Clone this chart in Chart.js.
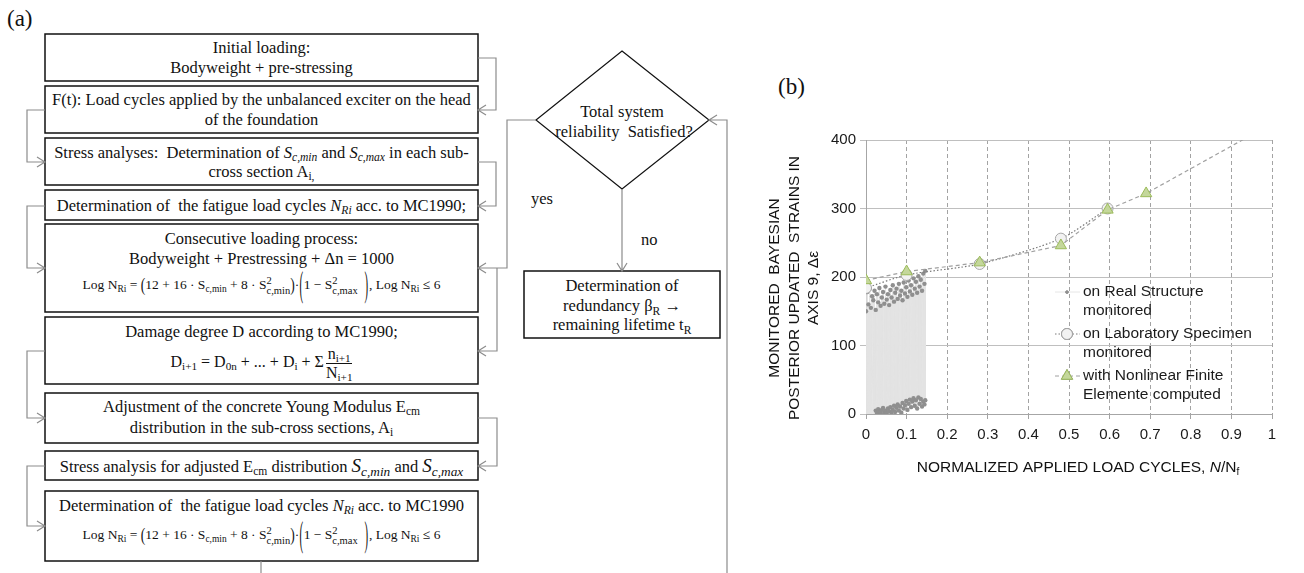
<!DOCTYPE html>
<html>
<head>
<meta charset="utf-8">
<script src="https://cdn.jsdelivr.net/npm/chart.js@4.4.1/dist/chart.umd.min.js"></script>
<style>
  html, body { margin: 0; padding: 0; background: #fff; }
  #page { position: relative; width: 1304px; height: 573px; overflow: hidden; font-family: "Liberation Serif", "Times New Roman", serif; color: #111; }
  #flow { position: absolute; left: 0; top: 0; }
  .tag { position: absolute; font-size: 23px; }
  .ln { position: absolute; left: 45px; width: 433px; height: 20px; line-height: 20px; text-align: center; font-size: 16.5px; white-space: nowrap; }
  .ln sub { font-size: 70%; vertical-align: -0.3em; line-height: 0; }
  .f { font-size: 13.5px; }
  .ss { display: inline-flex; flex-direction: column; vertical-align: middle; font-size: 78%; line-height: 0.95; text-align: left; }
  .p1 { display: inline-block; transform: scaleY(1.4); }
  .p2 { display: inline-block; transform: scaleY(2.7) scaleX(0.8); }
  .frac { display: inline-flex; flex-direction: column; vertical-align: middle; line-height: 1.1; text-align: center; margin-left: 2px; }
  .frac > span:first-child { border-bottom: 1px solid #111; }
  .free { position: absolute; font-size: 16.5px; white-space: nowrap; line-height: 20px; }
  #chartB { position: absolute; left: 760px; top: 100px; }
</style>
</head>
<body>
<div id="page">
  <svg id="flow" width="760" height="573" xmlns="http://www.w3.org/2000/svg">
    <g fill="none" stroke="#111" stroke-width="1.5">
      <rect x="45" y="34" width="433" height="47"/>
      <rect x="45" y="86" width="433" height="47"/>
      <rect x="45" y="138" width="433" height="47"/>
      <rect x="45" y="190" width="433" height="30"/>
      <rect x="45" y="224" width="433" height="88"/>
      <rect x="45" y="317" width="433" height="67"/>
      <rect x="45" y="393" width="433" height="50"/>
      <rect x="45" y="451" width="433" height="29"/>
      <rect x="45" y="491" width="433" height="70"/>
      <rect x="524" y="271" width="196" height="67"/>
      <path d="M622,51 L709,120 L622,189 L536,120 Z" stroke-width="1.2"/>
    </g>
    <g fill="none" stroke="#8c8c8c" stroke-width="1.2">
      <path d="M478,58 H496 V110 H478 M486,105 L478,110 L486,115"/>
      <path d="M45,110 H27 V162 H45 M37,157 L45,162 L37,167"/>
      <path d="M478,162 H496 V206 H478 M486,201 L478,206 L486,211"/>
      <path d="M45,206 H27 V268 H45 M37,263 L45,268 L37,273"/>
      <path d="M536,120 H507 V268 H478 M486,263 L478,268 L486,273"/>
      <path d="M497,268 V351 H478 M486,346 L478,351 L486,356"/>
      <path d="M45,351 H27 V418 H45 M37,413 L45,418 L37,423"/>
      <path d="M478,418 H497 V466 H478 M486,461 L478,466 L486,471"/>
      <path d="M45,466 H27 V526 H45 M37,521 L45,526 L37,531"/>
      <path d="M261,561 V573"/>
      <path d="M727,573 V120 H709 M717,115 L709,120 L717,125"/>
      <path d="M622,189 V271 M617,263 L622,271 L627,263"/>
    </g>
  </svg>

  <div class="tag" style="left:7px; top:6px;">(a)</div>
  <div class="tag" style="left:778px; top:74px;">(b)</div>

  <div class="ln" style="top:38px;">Initial loading:</div>
  <div class="ln" style="top:58px;">Bodyweight + pre-stressing</div>

  <div class="ln" style="top:90px;">F(t): Load cycles applied by the unbalanced exciter on the head</div>
  <div class="ln" style="top:110px;">of the foundation</div>

  <div class="ln" style="top:143px;">Stress analyses:&nbsp; Determination of <i>S<sub>c,min</sub></i> and <i>S<sub>c,max</sub></i> in each sub-</div>
  <div class="ln" style="top:162px;">cross section A<sub>i,</sub></div>

  <div class="ln" style="top:196px;">Determination of&nbsp; the fatigue load cycles <i>N<sub>Ri</sub></i> acc. to MC1990;</div>

  <div class="ln" style="top:229px;">Consecutive loading process:</div>
  <div class="ln" style="top:249px;">Bodyweight + Prestressing + Δn = 1000</div>
  <div class="ln f" style="top:275px;">Log N<sub>Ri</sub> = <span class="p1">(</span>12 + 16 · S<sub>c,min</sub> + 8 · S<span class="ss"><span>2</span><span>c,min</span></span><span class="p1">)</span>·<span class="p2">(</span>1 − S<span class="ss"><span>2</span><span>c,max</span></span>&nbsp;&nbsp;<span class="p2">)</span>, Log N<sub>Ri</sub> ≤ 6</div>

  <div class="ln" style="top:322px;">Damage degree D according to MC1990;</div>
  <div class="ln" style="top:345px; font-size:16px;">D<sub>i+1</sub> = D<sub>0n</sub> + ... + D<sub>i</sub> + Σ<span class="frac"><span>n<sub>i+1</sub></span><span>N<sub>i+1</sub></span></span></div>

  <div class="ln" style="top:397px;">Adjustment of the concrete Young Modulus E<sub>cm</sub></div>
  <div class="ln" style="top:418px;">distribution in the sub-cross sections, A<sub>i</sub></div>

  <div class="ln" style="top:456px;">Stress analysis for adjusted E<sub>cm</sub> distribution <i style="font-size:19px">S<sub>c,min</sub></i> and <i style="font-size:19px">S<sub>c,max</sub></i></div>

  <div class="ln" style="top:496px;">Determination of&nbsp; the fatigue load cycles <i>N<sub>Ri</sub></i> acc. to MC1990</div>
  <div class="ln f" style="top:525px;">Log N<sub>Ri</sub> = <span class="p1">(</span>12 + 16 · S<sub>c,min</sub> + 8 · S<span class="ss"><span>2</span><span>c,min</span></span><span class="p1">)</span>·<span class="p2">(</span>1 − S<span class="ss"><span>2</span><span>c,max</span></span>&nbsp;&nbsp;<span class="p2">)</span>, Log N<sub>Ri</sub> ≤ 6</div>

  <div class="free" style="left:572px; top:102px; width:100px; text-align:center;">Total system</div>
  <div class="free" style="left:552px; top:122px; width:144px; text-align:center;">reliability&nbsp; Satisfied?</div>
  <div class="free" style="left:531px; top:189px;">yes</div>
  <div class="free" style="left:641px; top:230px;">no</div>
  <div class="free" style="left:524px; top:276px; width:196px; text-align:center;">Determination of</div>
  <div class="free" style="left:524px; top:296px; width:196px; text-align:center;">redundancy β<sub style="font-size:70%">R</sub> →</div>
  <div class="free" style="left:524px; top:315px; width:196px; text-align:center;">remaining lifetime t<sub style="font-size:70%">R</sub></div>

  <canvas id="chartB" width="544" height="400"></canvas>
</div>

<script>
// (b) monitored / computed strains vs normalized load cycles
const realX    = [0.000, 0.003, 0.006, 0.009, 0.012, 0.015, 0.018, 0.021, 0.024, 0.027,
                  0.030, 0.033, 0.036, 0.039, 0.042, 0.045, 0.048, 0.051, 0.054, 0.057,
                  0.060, 0.063, 0.066, 0.069, 0.072, 0.075, 0.078, 0.081, 0.084, 0.087,
                  0.090, 0.093, 0.096, 0.099, 0.102, 0.105, 0.108, 0.111, 0.114, 0.117,
                  0.120, 0.123, 0.126, 0.129, 0.132, 0.135, 0.138, 0.141, 0.144, 0.146];
const realHigh = [150, 178, 160, 183, 155, 172, 166, 180, 152, 175,
                  163, 184, 158, 170, 178, 161, 186, 167, 175, 159,
                  181, 170, 188, 164, 177, 183, 168, 190, 173, 180,
                  166, 192, 176, 185, 171, 195, 179, 188, 174, 198,
                  183, 193, 177, 201, 186, 196, 180, 205, 190, 209];
const realLow  = [0, 0, 0, 0, 0, 0, 0, 0, 5, 2,
                  7, 3, 1, 6, 9, 2, 5, 1, 8, 4,
                  10, 1, 6, 12, 3, 9, 14, 5, 11, 2,
                  16, 8, 13, 19, 6, 15, 21, 10, 18, 23,
                  12, 20, 8, 24, 15, 22, 11, 18, 14, 20];

const labX = [0, 0.1, 0.28, 0.48, 0.595];
const labY = [184, 203, 219, 256, 300];

const feX = [0, 0.1, 0.28, 0.48, 0.595, 0.69, 1.0];
const feY = [195, 208, 221, 246, 298, 322, 424];

const seriesNames = [
  ['on Real Structure', 'monitored'],
  ['on Laboratory Specimen', 'monitored'],
  ['with Nonlinear Finite', 'Elemente computed']
];
const yTitle = ['MONITORED  BAYESIAN', 'POSTERIOR UPDATED  STRAINS IN', 'AXIS 9, Δε'];

const realPoints = [];
realX.forEach((x, i) => {
  realPoints.push({ x: x, y: realHigh[i] });
  realPoints.push({ x: x, y: realLow[i] });
});
const labPoints = labX.map((x, i) => ({ x: x, y: labY[i] }));
const fePoints = feX.map((x, i) => ({ x: x, y: feY[i] }));

const sans = '"Liberation Sans", Arial, sans-serif';

// titles and legend drawn on the canvas (multi-line, subscripts)
const extrasPlugin = {
  id: 'extras',
  afterDraw(chart) {
    const ctx = chart.ctx;
    ctx.save();
    ctx.fillStyle = '#111';

    // y title, three rotated lines
    ctx.font = '15.5px ' + sans;
    ctx.textAlign = 'center';
    ctx.textBaseline = 'middle';
    const lineX = [15, 35, 54];
    yTitle.forEach((t, i) => {
      ctx.save();
      ctx.translate(lineX[i], 188);
      ctx.rotate(-Math.PI / 2);
      ctx.fillText(t, 0, 0);
      ctx.restore();
    });

    // x title with N/N_f
    const main = 'NORMALIZED APPLIED LOAD CYCLES, ';
    const big = '15.5px ' + sans;
    ctx.textAlign = 'left';
    ctx.font = big;
    const w1 = ctx.measureText(main).width;
    ctx.font = 'italic ' + big;
    const w2 = ctx.measureText('N').width;
    ctx.font = big;
    const w3 = ctx.measureText('/N').width;
    ctx.font = '10px ' + sans;
    const w4 = ctx.measureText('f').width;
    let x = 318 - (w1 + w2 + w3 + w4) / 2;
    const y = 368;
    ctx.font = big;
    ctx.fillText(main, x, y); x += w1;
    ctx.font = 'italic ' + big;
    ctx.fillText('N', x, y); x += w2;
    ctx.font = big;
    ctx.fillText('/N', x, y); x += w3;
    ctx.font = '10px ' + sans;
    ctx.fillText('f', x, y + 4);

    // legend
    const rows = [192, 234, 276];
    chart.data.datasets.forEach((ds, i) => {
      const ry = rows[i];
      ctx.save();
      ctx.strokeStyle = i === 0 ? '#e6e6e6' : ds.borderColor;
      ctx.lineWidth = 1;
      ctx.setLineDash(ds.borderDash || []);
      ctx.beginPath();
      ctx.moveTo(295, ry);
      ctx.lineTo(320, ry);
      ctx.stroke();
      ctx.setLineDash([]);
      const r = i === 0 ? 1.5 : ds.pointRadius;
      Chart.helpers.drawPoint(ctx, {
        pointStyle: ds.pointStyle || 'circle',
        radius: r,
        rotation: 0,
        borderWidth: ds.pointBorderWidth
      }, 307, ry);
      ctx.fillStyle = ds.pointBackgroundColor;
      ctx.strokeStyle = ds.pointBorderColor;
      ctx.lineWidth = ds.pointBorderWidth;
      ctx.fill();
      if (ds.pointBorderWidth) ctx.stroke();
      ctx.restore();
      ctx.fillStyle = '#1a1a1a';
      ctx.font = '15.5px ' + sans;
      ctx.textAlign = 'left';
      ctx.textBaseline = 'middle';
      seriesNames[i].forEach((t, k) => ctx.fillText(t, 323, ry + k * 19));
    });
    ctx.restore();
  }
};

new Chart(document.getElementById('chartB'), {
  type: 'line',
  data: {
    datasets: [
      {
        label: seriesNames[0].join(' '),
        data: realPoints,
        borderColor: '#e3e3e3',
        borderWidth: 1,
        pointRadius: (c) => (c.raw && c.raw.y === 0 ? 0 : 2.2),
        pointBackgroundColor: '#8f8f8f',
        pointBorderColor: '#8f8f8f',
        pointBorderWidth: 0,
        tension: 0,
        order: 3
      },
      {
        label: seriesNames[1].join(' '),
        data: labPoints,
        borderColor: '#7a7a7a',
        borderWidth: 1.2,
        borderDash: [1.5, 2],
        pointStyle: 'circle',
        pointRadius: 5.5,
        pointBackgroundColor: '#f2f2f2',
        pointBorderColor: '#a6a6a6',
        pointBorderWidth: 1,
        tension: 0.25,
        order: 2
      },
      {
        label: seriesNames[2].join(' '),
        data: fePoints,
        borderColor: '#a0a0a0',
        borderWidth: 1.2,
        borderDash: [4, 3],
        pointStyle: 'triangle',
        pointRadius: 6.5,
        pointBackgroundColor: '#c4d79b',
        pointBorderColor: '#9bbb59',
        pointBorderWidth: 1,
        tension: 0,
        order: 1
      }
    ]
  },
  options: {
    responsive: false,
    animation: false,
    devicePixelRatio: 1,
    layout: { padding: { top: 40, right: 32, left: 0, bottom: 0 } },
    plugins: { legend: { display: false }, tooltip: { enabled: false } },
    scales: {
      x: {
        type: 'linear',
        min: 0,
        max: 1,
        ticks: {
          stepSize: 0.1,
          padding: 7,
          color: '#1a1a1a',
          font: { family: sans, size: 15 },
          callback: (v) => String(Math.round(v * 10) / 10)
        },
        grid: { color: '#a3a3a3', lineWidth: 1, tickLength: 5 },
        border: { color: '#a6a6a6', width: 1, dash: [4, 3] },
        afterFit: (s) => { s.height = 86; }
      },
      y: {
        min: 0,
        max: 400,
        ticks: { stepSize: 100, padding: 4, color: '#1a1a1a', font: { family: sans, size: 15 } },
        grid: { color: '#bfbfbf', lineWidth: 1, tickLength: 6 },
        border: { color: '#a6a6a6', width: 1 },
        afterFit: (s) => { s.width = 106; }
      }
    }
  },
  plugins: [extrasPlugin]
});
</script>
</body>
</html>
